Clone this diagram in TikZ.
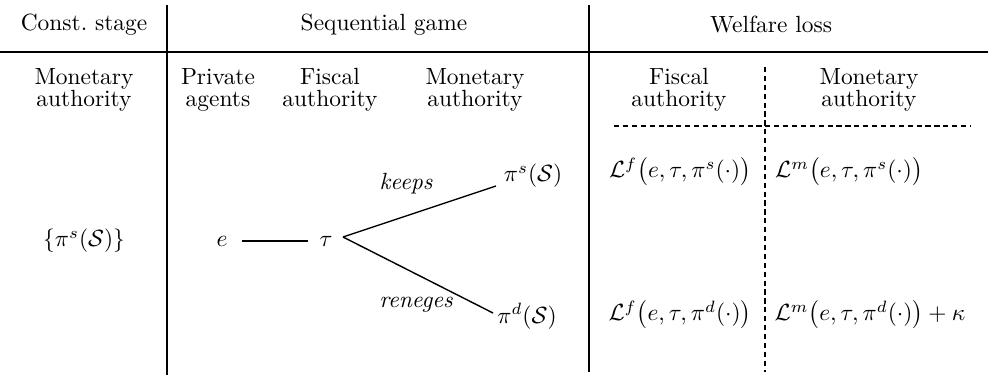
\documentclass[tikz,border=0pt]{standalone}
\usepackage{amsmath}
\begin{document}
\begin{tikzpicture}[x=0.427pt,y=-0.427pt,
  txt/.style={inner sep=0pt,align=center,font=\fontsize{10}{9.6}\selectfont},
  rule/.style={line width=0.6pt},
  dsh/.style={dashed,line width=0.5pt,dash pattern=on 2.2pt off 1.6pt},
  edge/.style={line width=0.6pt}]
\useasboundingbox (0,0) rectangle (988,376);
% rules
\coordinate (v1t) at (167,5); \coordinate (v1b) at (167,375);
\coordinate (v2t) at (589,5); \coordinate (v2b) at (589,372);
\coordinate (ht) at (0,52); \coordinate (hr) at (988,52);
\draw[rule] (v1t) -- (v1b);
\draw[rule] (v2t) -- (v2b);
\draw[rule] (ht) -- (hr);
\coordinate (dvt) at (765,67); \coordinate (dvb) at (765,372);
\coordinate (dhl) at (614,126); \coordinate (dhr) at (970,126);
\draw[dsh] (dvt) -- (dvb);
\draw[dsh] (dhl) -- (dhr);
% headers
\node[txt] (h1) at (84,25) {Const.\ stage};
\node[txt] (h2) at (384,25) {Sequential game};
\node[txt] (h3) at (771,25) {Welfare loss};
% sub-headers
\node[txt] (s1) at (84,90) {Monetary\\authority};
\node[txt] (s2) at (218,90) {Private\\agents};
\node[txt] (s3) at (330,90) {Fiscal\\authority};
\node[txt] (s4) at (475,90) {Monetary\\authority};
\node[txt] (s5) at (679,90) {Fiscal\\authority};
\node[txt] (s6) at (869,90) {Monetary\\authority};
% constitutional stage
\node[txt] (cs) at (84,241) {$\{\pi^s(\mathcal{S})\}$};
% game tree
\node[txt] (e) at (222,241) {$e$};
\node[txt] (tau) at (326,241) {$\tau$};
\node[txt] (ps) at (533,176) {$\pi^s(\mathcal{S})$};
\node[txt] (pd) at (527,316) {$\pi^d(\mathcal{S})$};
\coordinate (br) at (343,237);
\coordinate (pse) at (496,186);
\coordinate (pde) at (493,313);
\draw[edge] (e) ++(20,0) coordinate (el) -- ++(66,0) coordinate (tl);
\draw[edge] (br) -- (pse);
\draw[edge] (br) -- (pde);
\node[txt] (keeps) at (406,184) {\itshape keeps};
\node[txt] (ren) at (416,305) {\itshape reneges};
% welfare losses
\node[txt] (lfs) at (680,172) {$\mathcal{L}^f\bigl(e,\tau,\pi^s(\cdot)\bigr)$};
\node[txt] (lms) at (849,172) {$\mathcal{L}^m\bigl(e,\tau,\pi^s(\cdot)\bigr)$};
\node[txt] (lfd) at (680,315) {$\mathcal{L}^f\bigl(e,\tau,\pi^d(\cdot)\bigr)$};
\node[txt] (lmd) at (870,315) {$\mathcal{L}^m\bigl(e,\tau,\pi^d(\cdot)\bigr)+\kappa$};
\end{tikzpicture}
\end{document}
